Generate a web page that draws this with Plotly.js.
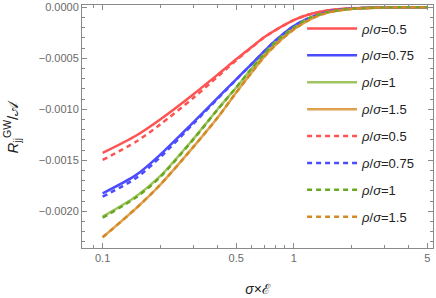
<!DOCTYPE html>
<html><head><meta charset="utf-8">
<script src="https://cdn.plot.ly/plotly-3.0.1.min.js"></script>
<style>body{margin:0;padding:0;background:#fff}#chart{width:436px;height:298px}</style>
</head><body><div id="chart"></div>
<script>
const xs = [0.1, 0.15, 0.2, 0.3, 0.4, 0.5, 0.6, 0.7, 0.8, 1, 1.2, 1.5, 2, 3, 5];
const solid05  = [-0.001428, -0.001257, -0.001100, -0.000850, -0.000660, -0.000510, -0.000392, -0.000294, -0.000225, -0.000126, -0.000071, -0.000032, -0.000010, -0.000001, 0];
const solid075 = [-0.001824, -0.001643, -0.001446, -0.001123, -0.000888, -0.000707, -0.000559, -0.000433, -0.000328, -0.000183, -0.000107, -0.000045, -0.000013, -0.000002, 0];
const solid1   = [-0.002053, -0.001853, -0.001656, -0.001285, -0.001000, -0.000787, -0.000604, -0.000460, -0.000345, -0.000201, -0.000108, -0.000048, -0.000014, -0.000002, 0];
const solid15  = [-0.002255, -0.001969, -0.001741, -0.001364, -0.001081, -0.000836, -0.000644, -0.000487, -0.000373, -0.000218, -0.000125, -0.000052, -0.000016, -0.000002, 0];
const dash05   = [-0.001497, -0.001316, -0.001149, -0.000885, -0.000680, -0.000520, -0.000397, -0.000296, -0.000226, -0.000126, -0.000071, -0.000032, -0.000010, -0.000001, 0];
const dash075  = [-0.001857, -0.001673, -0.001471, -0.001137, -0.000896, -0.000710, -0.000559, -0.000433, -0.000328, -0.000183, -0.000107, -0.000045, -0.000013, -0.000002, 0];
const dash1    = [-0.002063, -0.001863, -0.001665, -0.001290, -0.001002, -0.000787, -0.000604, -0.000460, -0.000345, -0.000201, -0.000108, -0.000048, -0.000014, -0.000002, 0];
const dash15   = [-0.002255, -0.001969, -0.001741, -0.001364, -0.001081, -0.000836, -0.000644, -0.000487, -0.000373, -0.000218, -0.000125, -0.000052, -0.000016, -0.000002, 0];
const labels = ["<i>ρ</i>/<i>σ</i>=0.5", "<i>ρ</i>/<i>σ</i>=0.75", "<i>ρ</i>/<i>σ</i>=1", "<i>ρ</i>/<i>σ</i>=1.5"];
const xTicks = [0.1, 0.5, 1, 5];
const xTickText = ["0.1", "0.5", "1", "5"];
const xMinor = [0.09, 0.2, 0.3, 0.4, 0.6, 0.7, 0.8, 0.9, 2, 3, 4];

const solidColors = ["#ff5252", "#4b4bff", "#9dc45e", "#dfa050"];
const dashColors  = ["#ff5252", "#4b4bff", "#6aa822", "#d48a22"];
const solids = [solid05, solid075, solid1, solid15];
const dashes = [dash05, dash075, dash1, dash15];

const traces = [];
solids.forEach((ys, i) => traces.push({x: xs, y: ys, mode: 'lines', name: labels[i], legendgroup: 's' + i,
  line: {color: solidColors[i], width: 2.5, shape: 'spline', smoothing: 0.8}}));
dashes.forEach((ys, i) => traces.push({x: xs, y: ys, mode: 'lines', name: labels[i], legendgroup: 'd' + i,
  line: {color: dashColors[i], width: 2.5, dash: '5px,4px', shape: 'spline', smoothing: 0.8}}));

const axisCommon = {showgrid: false, zeroline: false, showline: true, linecolor: '#8a8a8a', linewidth: 1,
  ticks: 'inside', tickcolor: '#8a8a8a', mirror: 'ticks', tickfont: {family: 'Liberation Sans, Arial, sans-serif', size: 11, color: '#6a6a6a'}};

const layout = {
  width: 436, height: 298,
  margin: {l: 82, r: 3, t: 5, b: 50},
  paper_bgcolor: '#fff', plot_bgcolor: '#fff',
  showlegend: true,
  legend: {x: 0.627, y: 0.965, xanchor: 'left', yanchor: 'top', bgcolor: 'rgba(255,255,255,0)',
    font: {family: 'Liberation Sans, Arial, sans-serif', size: 13, color: '#222'}, tracegroupgap: 7, itemwidth: 50},
  xaxis: Object.assign({}, axisCommon, {type: 'log', range: [-1.108, 0.729], tickmode: 'array', tickvals: xTicks, ticktext: xTickText,
    ticklen: 5, minor: {tickmode: 'array', tickvals: xMinor, ticklen: 3, ticks: 'inside', tickcolor: '#8a8a8a'},
    title: {text: '<i>σ</i>×ℰ', font: {family: 'Liberation Sans, Arial, sans-serif', size: 14, color: '#222'}, standoff: 20}}),
  yaxis: Object.assign({}, axisCommon, {range: [-0.00236, 0.0000225], tickmode: 'linear', tick0: 0, dtick: 0.0005, tickformat: '.4f',
    ticklen: 5, minor: {dtick: 0.0001, ticklen: 3, ticks: 'inside', tickcolor: '#8a8a8a'}}),
  annotations: [{text: '<i>R</i><sub>jj</sub><sup>GW</sup>/𝒜', xref: 'paper', yref: 'paper', x: 0, y: 0.5,
    xanchor: 'center', yanchor: 'middle', xshift: -70, textangle: -90, showarrow: false,
    font: {family: 'Liberation Sans, Arial, sans-serif', size: 15, color: '#222'}}]
};
Plotly.newPlot('chart', traces, layout, {displayModeBar: false, staticPlot: true});
</script></body></html>
